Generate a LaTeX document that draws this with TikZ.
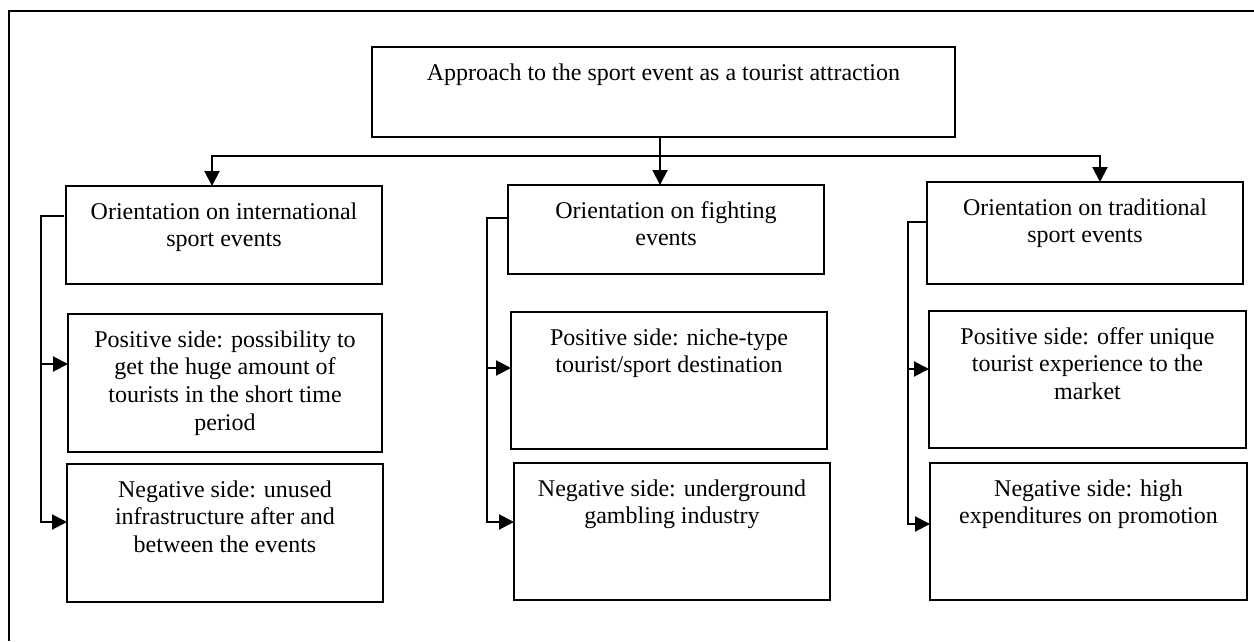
\documentclass[tikz,border=0pt]{standalone}
\usepackage{fontspec}
\setmainfont{Liberation Serif}
\usetikzlibrary{arrows.meta}
\begin{document}
\begin{tikzpicture}[x=1pt,y=-1pt,
  boxnode/.style={draw, rectangle, line width=2.3pt, inner sep=0pt, outer sep=0pt},
  txt/.style={anchor=north, align=center, inner sep=0pt,
    font=\fontsize{24}{27.6}\selectfont},
  conn/.style={line width=2pt},
  arr/.style={line width=2pt, -{Triangle[length=15pt,width=15pt]}}
]
\useasboundingbox (0,0) rectangle (1254,641);
% outer frame
\draw[line width=1.3pt] (9,641) -- (9,11);
\draw[line width=2.3pt] (8.4,11) -- (1254,11);

% boxes
\node[boxnode, minimum width=583pt, minimum height=90pt]  (T)  at (663.5,92) {};
\node[boxnode, minimum width=316pt, minimum height=98pt]  (B1) at (224,235) {};
\node[boxnode, minimum width=314pt, minimum height=138pt] (B2) at (225,383) {};
\node[boxnode, minimum width=316pt, minimum height=138pt] (B3) at (225,533) {};
\node[boxnode, minimum width=316pt, minimum height=89pt]  (B4) at (666,229.5) {};
\node[boxnode, minimum width=316pt, minimum height=137pt] (B5) at (669,380.5) {};
\node[boxnode, minimum width=316pt, minimum height=137pt] (B6) at (672,531.5) {};
\node[boxnode, minimum width=316pt, minimum height=102pt] (B7) at (1085,233) {};
\node[boxnode, minimum width=317pt, minimum height=137pt] (B8) at (1087.5,379.5) {};
\node[boxnode, minimum width=317pt, minimum height=137pt] (B9) at (1088.5,531.5) {};

% texts
\node[txt] (tT) at ([yshift=-13.7pt]T.north) {\strut Approach to the sport event as a tourist attraction};
\node[txt] (t1) at ([yshift=-13.7pt]B1.north) {\strut Orientation on international\\sport events};
\node[txt] (t2) at ([yshift=-13.7pt]B2.north) {\strut Positive side: possibility to\\get the huge amount of\\tourists in the short time\\period};
\node[txt] (t3) at ([yshift=-13.7pt]B3.north) {\strut Negative side: unused\\infrastructure after and\\between the events};
\node[txt] (t4) at ([yshift=-13.7pt]B4.north) {\strut Orientation on fighting\\events};
\node[txt] (t5) at ([yshift=-13.7pt]B5.north) {\strut Positive side: niche-type\\tourist/sport destination};
\node[txt] (t6) at ([yshift=-13.7pt]B6.north) {\strut Negative side: underground\\gambling industry};
\node[txt] (t7) at ([yshift=-13.7pt]B7.north) {\strut Orientation on traditional\\sport events};
\node[txt] (t8) at ([yshift=-13.7pt]B8.north) {\strut Positive side: offer unique\\tourist experience to the\\market};
\node[txt] (t9) at ([yshift=-13.7pt]B9.north) {\strut Negative side: high\\expenditures on promotion};

% top distribution
\coordinate (jl) at (212,156);
\coordinate (jm) at (660,156);
\coordinate (jr) at (1100,156);
\draw[conn] ([xshift=-1pt]jl) -- ([xshift=1pt]jr);
\draw[arr] (T.south -| jm) -- (B4.north -| jm);
\draw[arr] (jl) -- (B1.north -| jl);
\draw[arr] (jr) -- (B7.north -| jr);

% left bracket
\coordinate (lc) at (41,0);
\draw[arr] ([xshift=-2pt,yshift=-30pt]B1.north west) -| ([yshift=-58pt]B3.north west -| lc) -- ([yshift=-58pt]B3.north west);
\draw[arr] ([yshift=-50pt]B2.north west -| lc) -- ([yshift=-50pt]B2.north west);

% middle bracket
\coordinate (mc) at (487,0);
\draw[arr] ([yshift=-33pt]B4.north west) -| ([yshift=-59pt]B6.north west -| mc) -- ([yshift=-59pt]B6.north west);
\draw[arr] ([yshift=-56pt]B5.north west -| mc) -- ([yshift=-56pt]B5.north west);

% right bracket
\coordinate (rc) at (908,0);
\draw[arr] ([yshift=-40pt]B7.north west) -| ([yshift=-61pt]B9.north west -| rc) -- ([yshift=-61pt]B9.north west);
\draw[arr] ([yshift=-58pt]B8.north west -| rc) -- ([yshift=-58pt]B8.north west);
\end{tikzpicture}
\end{document}
